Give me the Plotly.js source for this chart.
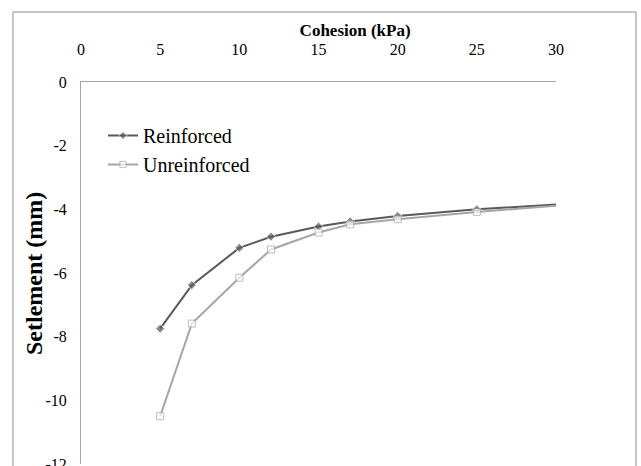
<!DOCTYPE html>
<html>
<head>
<meta charset="utf-8">
<script src="https://cdn.plot.ly/plotly-3.0.1.min.js"></script>
<style>
  html, body { margin: 0; padding: 0; background: #ffffff; }
  #chart { width: 641px; height: 466px; }
</style>
</head>
<body>
<div id="chart"></div>
<script>
// Cohesion values (kPa)
const cohesion = [5, 7, 10, 12, 15, 17, 20, 25, 30];

// Settlement (mm) for each case
const reinforced = [-7.75, -6.38, -5.21, -4.86, -4.54, -4.38, -4.21, -4.00, -3.85];
const unreinforced = [-10.50, -7.59, -6.15, -5.26, -4.73, -4.47, -4.31, -4.08, -3.89];

// Axis ticks
const xTicks = [0, 5, 10, 15, 20, 25, 30];
const yTicks = [0, -2, -4, -6, -8, -10, -12];
const yTickText = ['0', '-2', '-4', '-6', '-8', '-10', '-12'];

// the final point is drawn as a line end only
const markerSizes = cohesion.map((c, i) => (i === cohesion.length - 1 ? 0 : 7));

const serif = 'Liberation Serif, Times New Roman, serif';

const traces = [
  {
    x: cohesion,
    y: reinforced,
    name: 'Reinforced',
    type: 'scatter',
    mode: 'lines+markers',
    line: { color: '#595959', width: 2 },
    marker: { symbol: 'diamond', color: '#595959', size: markerSizes }
  },
  {
    x: cohesion,
    y: unreinforced,
    name: 'Unreinforced',
    type: 'scatter',
    mode: 'lines+markers',
    line: { color: '#a6a6a6', width: 2 },
    marker: {
      symbol: 'square',
      color: '#ffffff',
      size: markerSizes,
      line: { color: '#a6a6a6', width: 1 }
    }
  }
];

const layout = {
  width: 641,
  height: 466,
  margin: { l: 81, r: 85, t: 82, b: 2 },
  paper_bgcolor: '#ffffff',
  plot_bgcolor: '#ffffff',
  font: { family: serif, color: '#000000', size: 16 },
  showlegend: true,
  title: {
    text: '<b>Cohesion (kPa)</b>',
    font: { family: serif, size: 17, color: '#000000' },
    x: 0.554,
    xref: 'container',
    xanchor: 'center',
    y: 0.936,
    yref: 'container',
    yanchor: 'middle'
  },
  xaxis: {
    side: 'top',
    range: [0, 30],
    tickvals: xTicks,
    ticks: '',
    ticklabelstandoff: 20,
    showgrid: false,
    zeroline: false,
    showline: true,
    linecolor: '#a6a6a6',
    linewidth: 1,
    tickfont: { family: serif, size: 16, color: '#000000' },
    fixedrange: true
  },
  yaxis: {
    range: [-12, 0],
    tickvals: yTicks,
    ticktext: yTickText,
    ticks: '',
    ticklabelstandoff: 10,
    ticklabeloverflow: 'allow',
    showgrid: false,
    zeroline: false,
    showline: true,
    linecolor: '#a6a6a6',
    linewidth: 1,
    tickfont: { family: serif, size: 16, color: '#000000' },
    fixedrange: true
  },
  annotations: [
    {
      // vertical axis title
      text: '<b>Setlement (mm)</b>',
      textangle: -90,
      font: { family: serif, size: 24, color: '#000000' },
      xref: 'paper',
      yref: 'paper',
      x: -0.099,
      y: 0.5,
      xanchor: 'center',
      yanchor: 'middle',
      showarrow: false
    }
  ],
  legend: {
    x: 0.0463,
    xanchor: 'left',
    y: 0.911,
    yanchor: 'top',
    bgcolor: 'rgba(0,0,0,0)',
    font: { family: serif, size: 20, color: '#000000' },
    tracegroupgap: 0
  },
  shapes: [
    {
      type: 'rect',
      xref: 'paper',
      yref: 'paper',
      x0: -0.1432,
      x1: 1.1684,
      y0: -0.05,
      y1: 1.1832,
      line: { color: '#8c8c8c', width: 1 },
      fillcolor: 'rgba(0,0,0,0)',
      layer: 'below'
    }
  ]
};

Plotly.newPlot('chart', traces, layout, { displayModeBar: false, staticPlot: true });
</script>
</body>
</html>
